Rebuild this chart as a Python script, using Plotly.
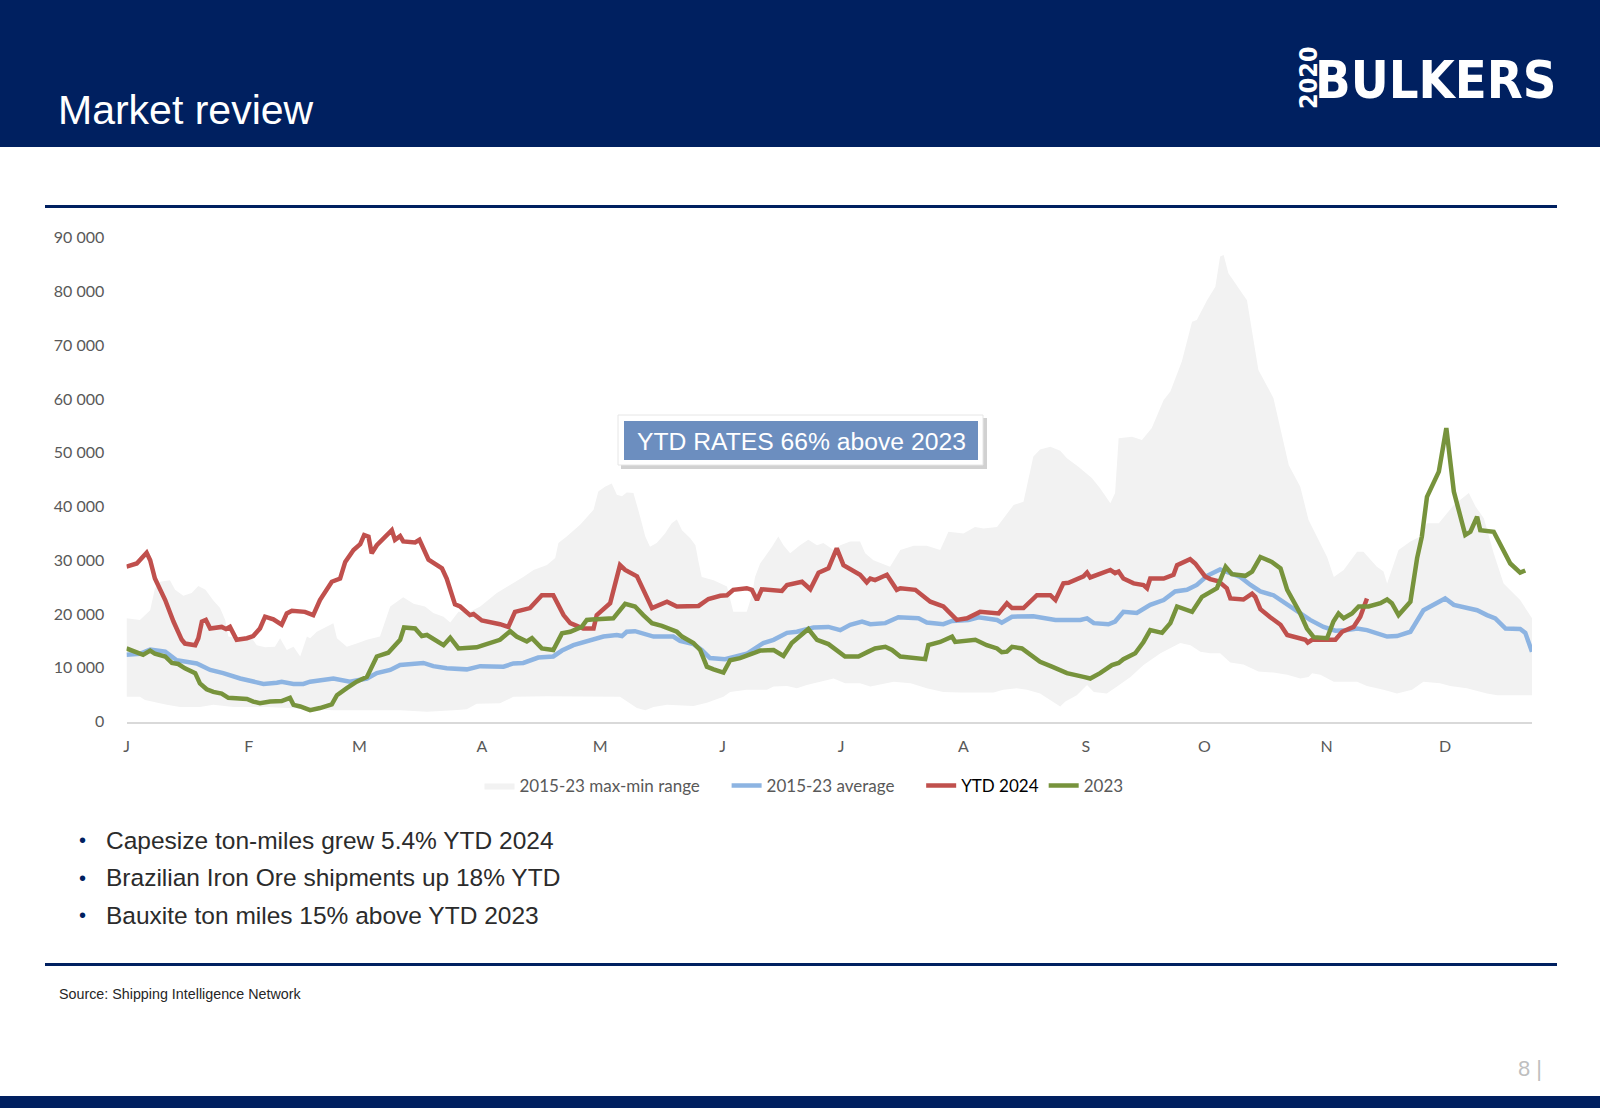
import plotly.graph_objects as go

# ---------------- data ----------------
month_start_days = [0, 31, 59, 90, 120, 151, 181, 212, 243, 273, 304, 334]
month_labels = ["J", "F", "M", "A", "M", "J", "J", "A", "S", "O", "N", "D"]
y_tick_values = [0, 10000, 20000, 30000, 40000, 50000, 60000, 70000, 80000, 90000]
y_tick_labels = ["0", "10 000", "20 000", "30 000", "40 000", "50 000",
                 "60 000", "70 000", "80 000", "90 000"]

# 2015-23 max (upper edge of range)
max_day = [0, 3.4, 6.0, 7.2, 8.5, 11.0, 12.3, 14.4, 16.5, 18.2,
           20.0, 22.0, 23.7, 25.0, 25.8, 28.8, 31.3, 33.0, 35.1, 37.6,
           38.9, 40.6, 42.3, 44.0, 45.7, 46.5, 48.2, 50.7, 52.4, 53.3,
           55.8, 58.3, 60.9, 64.2, 66.8, 68.5, 70.1, 72.7, 75.6, 77.7,
           80.3, 82.0, 84.1, 87.0, 89.6, 93.8, 98.0, 100.5, 103.1, 106.5,
           108.6, 109.4, 111.5, 114.9, 118.3, 119.5, 121.2, 122.9, 124.2, 125.5,
           126.7, 128.4, 130.1, 131.4, 132.6, 134.3, 136.4, 138.1, 139.4, 140.7,
           142.8, 144.1, 144.9, 145.7, 148.7, 152.1, 153.7, 157.1, 158.4, 159.2,
           160.5, 163.5, 165.1, 166.4, 168.1, 170.6, 172.7, 174.9, 176.5, 179.1,
           180.8, 183.3, 185.8, 187.1, 189.2, 193.4, 196.0, 199.4, 202.7, 206.1,
           208.2, 212.0, 214.9, 217.1, 220.5, 222.1, 224.7, 227.2, 229.7, 231.4,
           234.0, 236.5, 238.2, 241.1, 244.5, 246.6, 249.2, 250.4, 251.3, 254.7,
           257.2, 259.7, 262.7, 264.4, 267.3, 269.9, 271.1, 273.7, 275.8, 277.0,
           277.9, 279.1, 282.9, 283.8, 286.7, 290.5, 294.4, 297.3, 299.4, 304.1,
           305.8, 308.3, 311.7, 313.3, 316.7, 318.4, 319.3, 321.0, 322.2, 325.2,
           327.7, 329.4, 332.4, 336.2, 340.0, 341.7, 343.8, 346.3, 348.8, 353.0,
           356.0]
max_val = [19200, 18900, 20700, 24800, 26000, 26300, 24500, 23400, 23900, 25200,
           24500, 22500, 21100, 18900, 15800, 15500, 15900, 14200, 13800, 13900,
           15500, 13300, 13900, 12100, 15800, 15500, 16700, 17600, 18300, 15500,
           13900, 14500, 15200, 15800, 21400, 22300, 23100, 21900, 21400, 20200,
           19500, 18400, 20400, 20400, 21400, 23900, 25700, 26900, 28200, 29100,
           30400, 33200, 34400, 36600, 39400, 42800, 43700, 44300, 42200, 41900,
           42600, 42500, 38100, 34400, 32500, 33200, 35000, 36900, 37600, 35600,
           34100, 32800, 29700, 26900, 26300, 25100, 20400, 20400, 23500, 26900,
           29400, 32500, 34400, 32800, 31300, 32800, 33800, 32800, 33200, 31900,
           32800, 33500, 33500, 31300, 30000, 28800, 31900, 32700, 32700, 31900,
           35300, 35000, 36200, 35900, 36200, 37800, 40300, 40900, 49300, 50600,
           51100, 50400, 49000, 47400, 45300, 43400, 40600, 42500, 52700, 53000,
           52400, 54600, 59800, 61400, 67000, 74400, 74700, 78400, 80900, 86500,
           86800, 83400, 79400, 78400, 65400, 60200, 47700, 43700, 37500, 30600,
           26900, 28200, 31600, 31600, 28800, 27900, 25700, 29100, 31900, 33500,
           34400, 36900, 36900, 40300, 42500, 40000, 37800, 31300, 25700, 22600,
           19200]

# 2015-23 min (lower edge of range)
min_day = [0, 3.4, 4.7, 6.8, 10.2, 13.6, 18.6, 22.0, 27.1, 35.5,
           40.6, 47.3, 52.4, 69.3, 76.1, 82.8, 86.2, 88.7, 94.6, 95.5,
           98.0, 106.5, 125.0, 126.7, 129.3, 131.4, 133.5, 136.9, 143.6, 147.0,
           151.2, 152.9, 157.1, 162.2, 163.9, 167.3, 169.8, 172.3, 175.7, 179.1,
           182.0, 185.8, 188.4, 194.3, 198.6, 202.7, 206.9, 211.2, 219.6, 222.1,
           225.5, 228.1, 231.4, 234.0, 236.5, 237.8, 240.7, 243.3, 245.0, 248.3,
           250.9, 254.3, 257.6, 261.9, 266.9, 269.5, 272.0, 274.5, 277.0, 279.6,
           282.9, 286.7, 290.5, 294.0, 297.3, 299.4, 300.3, 302.4, 305.8, 311.7,
           314.2, 318.4, 321.8, 325.6, 328.5, 332.7, 335.3, 339.5, 344.6, 347.2,
           356.0]
min_val = [4600, 4600, 4000, 3600, 3100, 2700, 2700, 3100, 2700, 2700,
           2500, 2300, 2100, 2100, 1800, 2100, 2300, 3300, 3400, 3700,
           4600, 4700, 4600, 3700, 2500, 2100, 2700, 3100, 2900, 3500,
           4600, 5500, 5900, 5900, 6500, 6600, 6200, 6800, 7400, 8000,
           7100, 7100, 6500, 7400, 7100, 6200, 5500, 5400, 5400, 5900,
           6200, 5900, 5200, 4000, 2800, 3700, 4900, 6800, 5500, 5200,
           6500, 8300, 10500, 12700, 14600, 14200, 13000, 12700, 12700, 11000,
           10600, 9300, 9100, 8700, 8000, 8300, 9000, 8700, 7400, 7400,
           6600, 5900, 5200, 5900, 7400, 7100, 6600, 6200, 5200, 4900,
           4900]

# 2015-23 average
avg_day = [0, 3.4, 6.0, 9.8, 12.7, 14.8, 17.8, 21.2, 24.5, 28.8,
           32.1, 34.7, 38.1, 39.3, 42.3, 44.8, 46.5, 52.4, 56.6, 60.9,
           63.4, 66.8, 69.3, 75.2, 77.7, 81.1, 86.2, 89.6, 95.5, 98.0,
           100.5, 104.3, 108.1, 110.3, 113.2, 117.4, 120.8, 124.2, 125.5, 126.7,
           128.8, 133.5, 138.5, 140.2, 143.6, 145.7, 147.8, 151.6, 154.6, 157.1,
           161.3, 163.9, 167.3, 169.8, 174.0, 177.8, 180.8, 183.3, 186.3, 188.4,
           192.2, 195.5, 200.6, 202.7, 206.9, 209.1, 213.3, 215.8, 220.5, 221.7,
           224.3, 229.7, 235.3, 241.6, 243.3, 245.0, 248.7, 250.4, 252.5, 255.9,
           259.3, 262.7, 265.6, 268.6, 271.1, 273.7, 277.0, 278.7, 282.1, 284.7,
           287.2, 290.5, 294.0, 297.3, 299.8, 303.2, 306.2, 309.2, 311.7, 314.2,
           316.8, 319.3, 321.8, 325.2, 328.5, 331.1, 334.0, 336.2, 339.5, 342.1,
           344.6, 346.7, 349.3, 353.0, 354.3, 356.0]
avg_val = [12400, 12600, 13400, 13000, 11400, 11100, 10800, 9600, 9000, 8000,
           7400, 7000, 7200, 7400, 7000, 7000, 7400, 8000, 7400, 8000,
           9000, 9600, 10500, 10900, 10300, 9900, 9700, 10300, 10200, 10800,
           10900, 11900, 12100, 13200, 14200, 15200, 15800, 16100, 15900, 16700,
           16800, 15800, 15800, 15000, 14400, 13300, 11800, 11600, 12200, 12600,
           14600, 15200, 16500, 16700, 17500, 17600, 17000, 18000, 18600, 18100,
           18300, 19400, 19200, 18400, 18100, 18700, 18900, 19400, 18900, 18400,
           19500, 19600, 18900, 18900, 19200, 18300, 18100, 18600, 20400, 20200,
           21700, 22600, 24200, 24500, 25400, 27100, 28300, 27900, 26900, 25400,
           24200, 23500, 21700, 20100, 18900, 17600, 16900, 17000, 17300, 17000,
           16300, 15800, 15900, 16700, 20700, 21700, 22900, 21700, 21100, 20700,
           19800, 19200, 17300, 17200, 16500, 13000]

# YTD 2024
ytd_day = [0, 2.6, 5.1, 6.0, 7.2, 9.8, 11.9, 14.0, 14.8, 17.4,
           18.2, 19.1, 20.1, 21.2, 24.1, 25.2, 26.2, 27.9, 30.5, 32.1,
           33.8, 35.1, 37.2, 39.3, 40.6, 41.9, 45.2, 47.3, 49.0, 52.0,
           54.1, 55.4, 57.5, 59.2, 60.2, 61.3, 62.1, 63.4, 67.2, 68.0,
           69.3, 70.1, 73.1, 74.2, 76.5, 79.9, 81.1, 83.2, 84.5, 87.0,
           87.9, 90.0, 94.6, 96.7, 98.4, 102.2, 105.2, 108.1, 110.7, 112.4,
           115.7, 118.3, 119.1, 122.5, 125.0, 126.3, 129.3, 131.4, 133.1, 136.9,
           139.4, 144.9, 147.4, 150.4, 152.1, 153.7, 157.1, 158.4, 159.7, 160.9,
           166.0, 167.3, 171.1, 173.2, 175.3, 177.8, 179.9, 181.6, 185.8, 187.5,
           188.4, 189.6, 192.6, 195.1, 196.0, 199.8, 203.6, 206.9, 208.6, 210.3,
           212.9, 216.2, 220.9, 223.0, 224.3, 227.2, 230.6, 234.0, 235.3, 237.3,
           238.6, 242.4, 243.3, 244.1, 249.2, 250.4, 251.3, 252.5, 255.1, 257.6,
           258.5, 259.3, 262.7, 265.2, 266.1, 269.4, 270.7, 273.2, 274.5, 276.6,
           278.7, 279.6, 282.9, 285.1, 285.9, 287.2, 289.7, 292.3, 294.0, 296.5,
           298.6, 299.2, 300.3, 306.2, 307.9, 310.8, 312.5, 314.2]
ytd_val = [28800, 29400, 31400, 30000, 26600, 22600, 18600, 15200, 14500, 14200,
           15500, 18600, 18900, 17300, 17600, 17200, 17600, 15200, 15500, 15900,
           17300, 19500, 19000, 18000, 20100, 20600, 20400, 19800, 22600, 26000,
           26600, 29700, 31900, 33000, 34700, 34400, 31300, 32800, 35600, 33800,
           34500, 33500, 33300, 33800, 30100, 28500, 26600, 21800, 21400, 19800,
           20000, 18800, 18100, 17600, 20400, 21100, 23500, 23500, 19800, 18300,
           17300, 17300, 19800, 22000, 29100, 28200, 27000, 23900, 21100, 22300,
           21400, 21500, 22800, 23400, 23500, 24500, 24800, 24500, 22600, 24600,
           24300, 25400, 26000, 24600, 27700, 28500, 32200, 29100, 27300, 25900,
           26600, 26300, 27300, 24500, 24800, 24500, 22300, 21400, 20100, 18900,
           19200, 20400, 20100, 22000, 21100, 21100, 23500, 23500, 22600, 25700,
           25800, 27000, 27700, 26800, 28200, 27600, 27900, 26600, 25700, 25400,
           24800, 26600, 26600, 27300, 29100, 30200, 29400, 27000, 26500, 26100,
           24800, 22900, 22700, 23800, 23200, 20900, 19400, 18000, 16100, 15500,
           15200, 14700, 15200, 15200, 16700, 17600, 19500, 22900]

# 2023
y2023_day = [0, 4.2, 6.0, 7.2, 9.8, 11.5, 13.1, 14.8, 17.4, 18.6,
             20.3, 22.0, 24.1, 25.8, 30.5, 32.1, 33.8, 36.4, 39.3, 41.4,
             42.3, 44.0, 46.5, 49.0, 52.0, 53.3, 55.8, 58.3, 60.9, 63.4,
             66.3, 69.3, 70.3, 73.1, 74.8, 76.1, 80.3, 82.0, 84.1, 88.7,
             90.4, 94.6, 97.2, 98.8, 101.4, 102.7, 105.2, 108.1, 110.3, 112.4,
             115.3, 116.6, 117.9, 123.3, 126.3, 128.8, 130.9, 133.1, 135.6, 139.4,
             140.7, 143.6, 145.3, 147.0, 148.7, 151.2, 152.9, 155.4, 158.8, 160.5,
             163.9, 165.1, 166.4, 168.5, 172.7, 174.9, 177.8, 182.0, 185.4, 187.9,
             189.6, 192.2, 193.9, 196.0, 199.3, 202.3, 203.1, 206.1, 209.1, 209.9,
             215.0, 217.9, 220.5, 221.7, 223.0, 224.3, 226.8, 229.7, 231.4, 234.4,
             236.1, 238.2, 242.4, 244.1, 246.6, 249.6, 251.3, 252.5, 255.5, 257.6,
             259.3, 262.3, 264.4, 266.1, 269.9, 272.4, 276.2, 278.4, 280.0, 283.4,
             285.1, 287.2, 290.1, 292.3, 294.0, 297.3, 299.0, 300.7, 304.1, 305.7,
             307.0, 308.3, 310.4, 312.1, 314.6, 317.6, 319.3, 320.5, 322.2, 325.2,
             326.9, 328.1, 329.4, 332.4, 334.3, 336.2, 339.1, 340.4, 342.1, 342.9,
             346.3, 348.0, 350.5, 353.0, 354.3]
y2023_val = [13600, 12400, 13200, 12600, 12100, 10900, 10700, 9900, 9000, 7100,
             6000, 5500, 5200, 4400, 4200, 3700, 3400, 3700, 3800, 4400,
             3100, 2800, 2100, 2500, 3200, 4900, 6200, 7400, 8300, 12100,
             12800, 15200, 17500, 17300, 15900, 16100, 14200, 15600, 13600, 13800,
             14200, 15200, 16800, 15800, 14900, 15500, 13600, 13300, 16400, 16700,
             17600, 18900, 19000, 19200, 21900, 21400, 19800, 18300, 17800, 16700,
             15800, 14600, 13300, 10200, 9700, 9100, 11400, 11800, 12700, 13200,
             13300, 12800, 12200, 14600, 17200, 15200, 14400, 12100, 12100, 13000,
             13600, 13900, 13300, 12100, 11800, 11600, 14200, 14800, 15800, 14800,
             15200, 14200, 13600, 12900, 13000, 13900, 13600, 12100, 11100, 10200,
             9600, 9000, 8300, 8000, 9000, 10500, 10900, 11600, 12700, 14800,
             17000, 16500, 18300, 21400, 20400, 23200, 24800, 28800, 27400, 27100,
             27900, 30600, 29700, 28500, 24500, 20100, 17300, 15700, 15500, 18600,
             20100, 19200, 20100, 21400, 21400, 22000, 22700, 22000, 19800, 22300,
             30400, 34400, 41800, 46500, 54600, 42800, 34700, 35300, 38100, 35600,
             35300, 32800, 29400, 27700, 28100]

series_names = ["2015-23 max-min range", "2015-23 average", "YTD 2024", "2023"]
bullets = ["Capesize ton-miles grew 5.4% YTD 2024",
           "Brazilian Iron Ore shipments up 18% YTD",
           "Bauxite ton miles 15% above YTD 2023"]

# ---------------- layout helpers ----------------
W, H = 1600, 1108
NAVY = "#002060"
PAD = "\u00a0" * 5


def px(x):
    return x / W


def py(y):
    return 1 - y / H


fig = go.Figure()

fig.add_trace(go.Scatter(
    x=max_day + min_day[::-1], y=max_val + min_val[::-1],
    fill="toself", fillcolor="#F2F2F2", mode="lines",
    line=dict(width=0, color="#F2F2F2"), name=series_names[0] + PAD, hoverinfo="skip"))
fig.add_trace(go.Scatter(
    x=avg_day, y=avg_val, mode="lines",
    line=dict(color="#8DB4E2", width=4.5), name=series_names[1] + PAD))
fig.add_trace(go.Scatter(
    x=ytd_day, y=ytd_val, mode="lines",
    line=dict(color="#C0504D", width=4.5),
    name="<span style='color:#000000'>" + series_names[2] + "</span>"))
fig.add_trace(go.Scatter(
    x=y2023_day, y=y2023_val, mode="lines",
    line=dict(color="#77933C", width=4.5), name=series_names[3]))

AX_FONT = dict(family="Lato, Carlito, Open Sans, sans-serif", size=16, color="#595959")
LEG_FONT = dict(family="Lato, Carlito, Open Sans, sans-serif", size=17, color="#595959")
LOGO_FONT = "DejaVu Sans Condensed, DejaVu Sans, sans-serif"
ARIAL = "Liberation Sans, Arial, sans-serif"

fig.update_xaxes(
    domain=[px(126.5), px(1532)], range=[0, 356], automargin=False,
    tickmode="array", tickvals=month_start_days, ticktext=month_labels,
    showgrid=False, zeroline=False, showline=True, linecolor="#D9D9D9", linewidth=1.5,
    ticks="outside", ticklen=10, tickcolor="rgba(0,0,0,0)", tickfont=AX_FONT,
    fixedrange=True)
fig.update_yaxes(
    domain=[py(721.5), py(237.8)], range=[0, 90000], automargin=False,
    tickmode="array", tickvals=y_tick_values, ticktext=y_tick_labels,
    showgrid=False, zeroline=False, showline=False,
    ticks="outside", ticklen=18, tickcolor="rgba(0,0,0,0)", tickfont=AX_FONT,
    fixedrange=True)

shapes = [
    dict(type="rect", xref="paper", yref="paper", x0=0, x1=1, y0=py(147), y1=1,
         fillcolor=NAVY, line=dict(width=0), layer="below"),
    dict(type="rect", xref="paper", yref="paper", x0=0, x1=1, y0=0, y1=py(1096),
         fillcolor=NAVY, line=dict(width=0), layer="below"),
    dict(type="line", xref="paper", yref="paper", x0=px(45), x1=px(1557),
         y0=py(206.5), y1=py(206.5), line=dict(color=NAVY, width=3)),
    dict(type="line", xref="paper", yref="paper", x0=px(45), x1=px(1557),
         y0=py(964.5), y1=py(964.5), line=dict(color=NAVY, width=3)),
    dict(type="rect", xref="paper", yref="paper", x0=px(621), x1=px(987),
         y0=py(469), y1=py(418), fillcolor="rgba(0,0,0,0.18)", line=dict(width=0),
         layer="above"),
    dict(type="rect", xref="paper", yref="paper", x0=px(618), x1=px(983),
         y0=py(465), y1=py(415), fillcolor="#FFFFFF", line=dict(color="#E6E6E6", width=1),
         layer="above"),
    dict(type="rect", xref="paper", yref="paper", x0=px(624), x1=px(978),
         y0=py(460), y1=py(421), fillcolor="#6C8EBF", line=dict(width=0),
         layer="above"),
]

annotations = [
    dict(text="Market review", x=px(56), y=py(110), xref="paper", yref="paper",
         xanchor="left", yanchor="middle", showarrow=False,
         font=dict(family=ARIAL, size=41, color="#FFFFFF")),
    dict(text="<b>BULKERS</b>", x=px(1558), y=py(79.5), xref="paper", yref="paper",
         xanchor="right", yanchor="middle", showarrow=False,
         font=dict(family=LOGO_FONT, size=52, color="#FFFFFF")),
    dict(text="<b>2020</b>", x=px(1308), y=py(78), xref="paper", yref="paper",
         xanchor="center", yanchor="middle", showarrow=False, textangle=-90,
         font=dict(family=LOGO_FONT, size=25, color="#FFFFFF")),
    dict(text="YTD RATES 66% above 2023", x=px(801), y=py(441), xref="paper", yref="paper",
         xanchor="center", yanchor="middle", showarrow=False,
         font=dict(family=ARIAL, size=24.7, color="#FFFFFF")),
    dict(text="Source: Shipping Intelligence Network", x=px(57), y=py(994),
         xref="paper", yref="paper", xanchor="left", yanchor="middle", showarrow=False,
         font=dict(family=ARIAL, size=14.3, color="#262626")),
    dict(text="8 |", x=px(1516), y=py(1068), xref="paper", yref="paper",
         xanchor="left", yanchor="middle", showarrow=False,
         font=dict(family=ARIAL, size=22, color="#BFBFBF")),
]
for i, b in enumerate(bullets):
    yy = 840 + i * 37.5
    annotations.append(dict(text="•", x=px(82), y=py(yy), xref="paper", yref="paper",
                            xanchor="center", yanchor="middle", showarrow=False,
                            font=dict(family=ARIAL, size=20, color=NAVY)))
    annotations.append(dict(text=b, x=px(104), y=py(yy), xref="paper", yref="paper",
                            xanchor="left", yanchor="middle", showarrow=False,
                            font=dict(family=ARIAL, size=24.5, color="#2B2B2B")))

fig.update_layout(
    width=W, height=H, autosize=False,
    margin=dict(l=0, r=0, t=0, b=0, pad=0, autoexpand=False),
    paper_bgcolor="#FFFFFF", plot_bgcolor="#FFFFFF",
    shapes=shapes, annotations=annotations,
    showlegend=True,
    legend=dict(orientation="h", x=px(804), xanchor="center", y=py(786), yanchor="middle",
                font=LEG_FONT, bgcolor="rgba(0,0,0,0)", traceorder="normal",
                itemwidth=30),
    hovermode=False,
)

page_fix = (
    "document.documentElement.style.margin='0';"
    "document.documentElement.style.padding='0';"
    "document.documentElement.style.overflow='hidden';"
    "document.body.style.margin='0';"
    "document.body.style.padding='0';"
    "document.body.style.overflow='hidden';"
    "var gd=document.getElementById('{plot_id}');"
    "if(gd&&gd.parentElement){gd.parentElement.style.margin='0';gd.parentElement.style.padding='0';}"
)

fig.write_html("out.html", include_plotlyjs=True,
               config={"displayModeBar": False}, post_script=page_fix)
